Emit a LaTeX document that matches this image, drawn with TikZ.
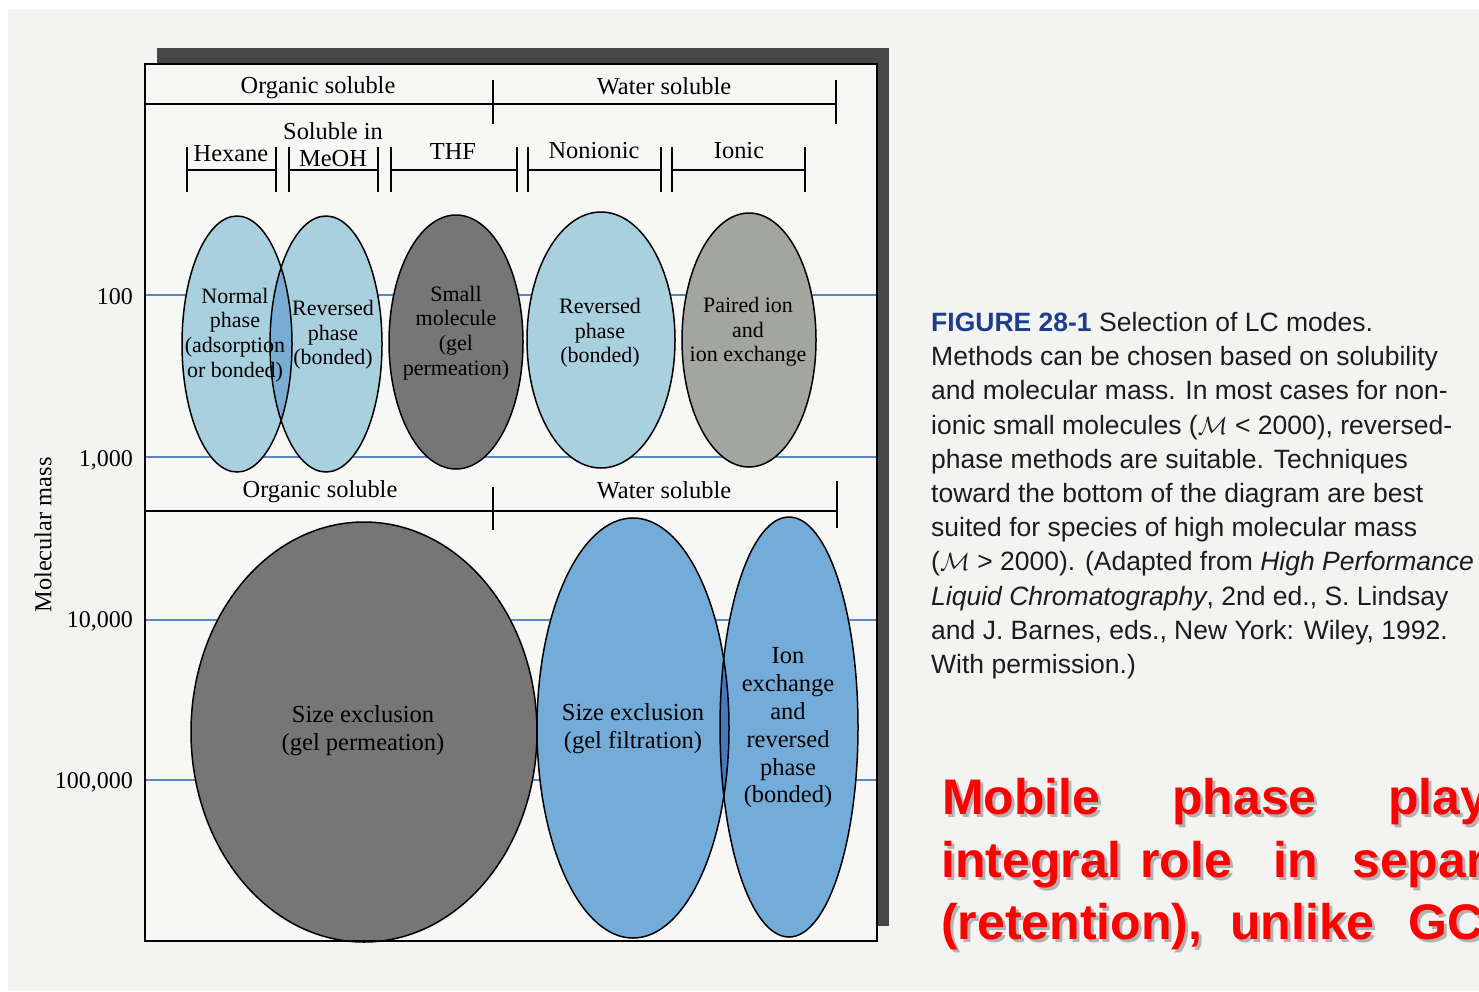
\documentclass[tikz,border=0pt]{standalone}
\usepackage{fontspec}
\setmainfont{Liberation Serif}
\newfontfamily\capfont{Liberation Sans}
\usetikzlibrary{positioning}

\definecolor{paper}{HTML}{F3F4F1}
\definecolor{chartbg}{HTML}{F7F7F5}
\definecolor{gridblue}{HTML}{5B87C4}
\definecolor{paleblue}{HTML}{A9D0DF}
\definecolor{paleover}{HTML}{79ADD3}
\definecolor{seablue}{HTML}{73ACD9}
\definecolor{seaover}{HTML}{4479C2}
\definecolor{gelgray}{HTML}{767676}
\definecolor{pairgray}{HTML}{A3A5A0}
\definecolor{capblue}{HTML}{1E3C8E}
\definecolor{capink}{HTML}{1C1C1C}
\definecolor{hired}{HTML}{FF0000}

\tikzset{
  hdr/.style={font=\fontsize{24.4}{26}\selectfont, inner sep=0pt},
  mass/.style={font=\fontsize{24}{26}\selectfont, inner sep=0pt, anchor=east},
  small/.style={align=center, font=\fontsize{22}{24.6}\selectfont, inner sep=0pt},
  large/.style={align=center, font=\fontsize{24.5}{27.8}\selectfont, inner sep=0pt},
  rim/.style={draw=black, line width=1.5pt},
  tick/.style={line width=1.6pt},
  slide/.style={font=\capfont\bfseries\fontsize{50}{63}\selectfont, anchor=base west, inner sep=0pt},
}
% red word with its grey drop shadow
\newcommand{\redword}[3]{%
  \node[slide, text=black!30] at (#1+3,#2+3) {#3};
  \node[slide, text=hired] (w#1#2) at (#1,#2) {#3};}

\begin{document}
\begin{tikzpicture}[x=1pt, y=-1pt]
\useasboundingbox (0,0) rectangle (1479,991);
\clip (0,0) rectangle (1479,991);
\fill[white] (0,0) rectangle (1479,991);
\fill[paper] (8,9) rectangle (1479,991);

% frame with its shadow
\fill[black!72] (157,48) rectangle (888,64);
\fill[black!72] (876,48) rectangle (889,926);
\fill[chartbg] (145,64) rectangle (877,941);

% mass grid
\foreach \y in {295,457,620,780} {\draw[gridblue, line width=1.3pt] (145,\y) -- (877,\y);}

% upper modes
\fill[paleblue] (237,344) ellipse [x radius=55pt, y radius=128pt];
\fill[paleblue] (326,344) ellipse [x radius=56pt, y radius=128pt];
\begin{scope}
  \clip (237,344) ellipse [x radius=55pt, y radius=128pt];
  \fill[paleover] (326,344) ellipse [x radius=56pt, y radius=128pt];
\end{scope}
\fill[gelgray] (456,342) ellipse [x radius=67pt, y radius=127pt];
\fill[paleblue] (601,340) ellipse [x radius=74pt, y radius=128pt];
\fill[pairgray] (749,340) ellipse [x radius=67pt, y radius=127pt];
\draw[rim] (237,344) ellipse [x radius=55pt, y radius=128pt];
\draw[rim] (326,344) ellipse [x radius=56pt, y radius=128pt];
\draw[rim] (456,342) ellipse [x radius=67pt, y radius=127pt];
\draw[rim] (601,340) ellipse [x radius=74pt, y radius=128pt];
\draw[rim] (749,340) ellipse [x radius=67pt, y radius=127pt];

% lower modes
\fill[gelgray] (364,732) ellipse [x radius=173pt, y radius=210pt];
\fill[seablue] (633,728) ellipse [x radius=96pt, y radius=210pt];
\fill[seablue] (789,727) ellipse [x radius=69pt, y radius=210pt];
\begin{scope}
  \clip (633,728) ellipse [x radius=96pt, y radius=210pt];
  \fill[seaover] (789,727) ellipse [x radius=69pt, y radius=210pt];
\end{scope}
\draw[rim] (364,732) ellipse [x radius=173pt, y radius=210pt];
\draw[rim] (633,728) ellipse [x radius=96pt, y radius=210pt];
\draw[rim] (789,727) ellipse [x radius=69pt, y radius=210pt];

\node[small] (normal) at (235,335) {Normal\\phase\\(adsorption\\or bonded)};
\node[small] (revorg) at (333,335) {Reversed\\phase\\(bonded)};
\node[small] (smallmol) at (456,333) {Small\\molecule\\(gel\\permeation)};
\node[small] (revwat) at (600,333) {Reversed\\phase\\(bonded)};
\node[small] (paired) at (748,332) {Paired ion\\and\\ion exchange};
\node[large] (gelperm) at (363,731) {Size exclusion\\(gel permeation)};
\node[large] (gelfilt) at (633,729) {Size exclusion\\(gel filtration)};
\node[large] (ionex) at (788,728) {Ion\\exchange\\and\\reversed\\phase\\(bonded)};

% solubility headers
\draw[tick] (145,104) -- (836,104);
\draw[tick] (493,80) -- (493,124);
\draw[tick] (836,80) -- (836,124);
\node[hdr] (orgtop) at (318,88) {Organic soluble};
\node[hdr] (wattop) at (664,86) {Water soluble};
\foreach \a/\b in {187/276, 289/378, 391/517, 528/661, 672/805}
  {\draw[tick] (\a,147) -- (\a,192) (\a,170) -- (\b,170) (\b,147) -- (\b,192);}
\node[hdr] (hexane) at (231,154) {Hexane};
\node[hdr] (solin) at (333,131) {Soluble in};
\node[hdr] (meoh) at (333,159) {MeOH};
\node[hdr] (thf) at (453,152) {THF};
\node[hdr] (nonionic) at (594,151) {Nonionic};
\node[hdr] (ionic) at (739,151) {Ionic};

\draw[tick] (145,511) -- (837,511);
\draw[tick] (493,487) -- (493,530);
\draw[tick] (837,481) -- (837,528);
\node[hdr] (orgbot) at (320,492) {Organic soluble};
\node[hdr] (watbot) at (664,490) {Water soluble};

\draw[line width=2pt] (145,64) rectangle (877,941);

% mass axis
\node[mass] (m2) at (133,297) {100};
\node[mass] (m3) at (133,460) {1,000};
\node[mass] (m4) at (133,621) {10,000};
\node[mass] (m5) at (133,782) {100,000};
\node[hdr, rotate=90] (axis) at (43,535) {Molecular mass};

% caption
\node[anchor=north west, align=left, inner sep=0pt, text=capink,
  font=\capfont\fontsize{26.5}{34.2}\selectfont] (caption) at (931,312)
  {{\bfseries\color{capblue}FIGURE 28-1} Selection of LC modes.\\
   Methods can be chosen based on solubility\\
   and molecular mass. In most cases for non-\\
   ionic small molecules ($\mathcal{M}$ < 2000), reversed-\\
   phase methods are suitable. Techniques\\
   toward the bottom of the diagram are best\\
   suited for species of high molecular mass\\
   ($\mathcal{M}$ > 2000). (Adapted from \textit{High Performance}\\
   \textit{Liquid Chromatography}, 2nd ed., S. Lindsay\\
   and J. Barnes, eds., New York: Wiley, 1992.\\
   With permission.)};

% slide remark
\redword{942}{814}{Mobile}
\redword{1172}{814}{phase}
\redword{1388}{814}{play}
\redword{941}{877}{integral}
\redword{1140}{877}{role}
\redword{1273}{877}{in}
\redword{1352}{877}{separ}
\redword{941}{939}{(retention),}
\redword{1230}{939}{unlike}
\redword{1408}{939}{GC}
\end{tikzpicture}
\end{document}
